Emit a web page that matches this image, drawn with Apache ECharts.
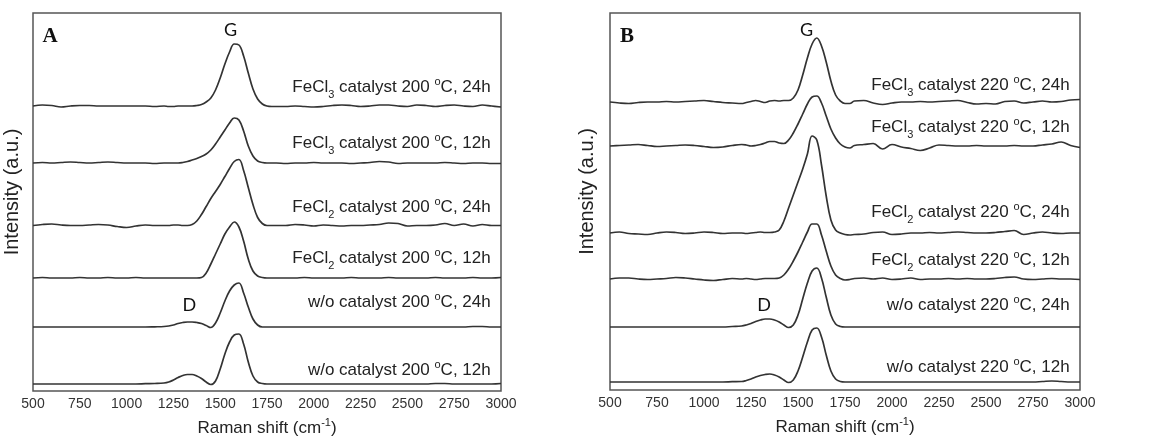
<!DOCTYPE html>
<html>
<head>
<meta charset="utf-8">
<script src="https://cdn.jsdelivr.net/npm/echarts@6/dist/echarts.min.js"></script>
<style>
html,body{margin:0;padding:0;background:#fff;}
#main{width:1153px;height:436px;}
</style>
</head>
<body>
<div id="main"></div>
<script>
// Raman shift grid (cm-1), finer around the D/G bands
var shift = [500,550,600,650,700,750,800,850,900,950,1000,1050,1100,1150,
	1200,1225,1250,1275,1300,1325,1350,1375,1400,1425,1450,1475,1500,1525,1550,1575,1600,1625,1650,1675,1700,1725,1750,1775,1800,
	1850,1900,1950,2000,2050,2100,2150,2200,2250,2300,2350,2400,2450,2500,2550,2600,2650,2700,2750,2800,2850,2900,2950,3000];

// panel A : 200 °C (intensity above each trace's own baseline)
var fecl3_200_24h = [0,1,0.5,-1,0,0.5,0.5,0,0,0,0,0,0,-0.5,
	0,-0.5,-0.5,0,0,0,0,0.5,1.5,4,8,16,28,42,54,62,61,50,33,17,7,2,0,-0.5,-0.5,
	-0.5,0,-0.5,-1,-0.5,0.5,1,0.5,-0.5,0,1,1,0,-0.5,1,0.5,-0.5,0.5,1,0,-0.5,1,0,-1];
var fecl3_200_12h = [0,0.5,0,0.5,1,0.5,0,0.5,1,0.5,0,0,0,-0.5,
	0,0,0,0,0.5,1.5,3,4.5,6.5,9,13,19,26,33,40,45,43,32,17,7,2,0.5,0,0,0,
	-0.5,0,0,0.5,0,0,0,-0.5,0,0.5,1.5,1,-0.5,0,0,0,0,0.5,0,-0.5,0,0,-0.5,-0.5];
var fecl2_200_24h = [0,1,1.5,0.5,0,0,0.5,1,0.5,-1,-2,-0.5,0.5,0,
	0,0,0.5,0.5,0,0,1,4.5,11,19,27,34,41,49,57,64,66,55,38,21,8,2,0,0,0,
	0,1,0.5,-0.5,0.5,0,-0.5,0,0,0.5,1,2.5,2,-0.5,0,0,0.5,2,0,1.5,-0.5,1,0,0];
var fecl2_200_12h = [0,0.5,0,0,0,0.5,0,0,0.5,0,0,0.5,0,0,
	0,0,0,0,0,0,0,0,0.5,5,14,24,34,44,51,56,51,37,19,7,2,0.5,0,0,0,
	0,0,0.5,0,0,0,0,0.5,0,0,0,0.5,0,0,0,0,0.5,0,0,0,0.5,0,0,0.5];
var none_200_24h = [0,0,0,0,0,0,0,0,0,0,0,0,0,0.2,
	0.5,1,2,3.5,4.5,5,5,4.5,3.5,1.5,-0.5,4,14,26,36,42,44,34,20,8,2,0,0,0,0,
	0,0,0,0,0,0,0,0,0,0,0,0,0,0,0,0,0,0,0,0,0.5,0.5,0,0];
var none_200_12h = [0,0,0,0,0,0,0,0,0,0,0,0,0.3,0.5,
	1,2,4,6.5,8.5,9.5,9.5,8,5.5,2,-0.5,3,15,30,42,49,50,40,22,8,2,0.5,0,0,0,
	0,0,0,0,0,0,0,0,0,0,0,0,0,0,0,0,0.5,0.5,0,0,0,0,0,0.5];

// panel B : 220 °C
var fecl3_220_24h = [0,-1,-1.5,-0.5,0,0,0.5,0,0.5,1,1.5,0.5,-0.5,-1,
	-1.5,-0.5,0.5,1.5,0.5,-0.5,1,1.5,1,1.5,1.5,4,12,27,44,58,64,56,40,21,7,1,-1.5,-1.5,1,
	1.5,-1,-2.5,-1,0,0,0.5,0,0.5,1,1.5,-0.5,-2,-1.5,-2,0.5,1,-1,0,1,0,0.5,2,2.5];
var fecl3_220_12h = [0,0.5,1,1.5,0.5,-0.5,0,0.5,1,0.5,-0.5,-1.5,-1,0.5,
	1.5,1,0,0.5,1.5,3,4.5,4.5,3,2.5,6,13,22,32,42,49,50,43,30,17,8,2,-1,-2,0.5,
	1.5,2.5,-3,1.5,-1,-2.5,-4.5,-2,1,0.5,0,0,0.5,0,0,0,0.5,0,0,1,2,4,0.5,-1.5];
var fecl2_220_24h = [0,1,-0.5,-1,-1.5,0,1,0.5,-0.5,0,1,0.5,-0.5,0,
	0,-0.5,0,0.5,1,0.5,0.5,1,3,12,25,38,51,64,79,97,93,68,37,13,3,0,-1.5,-2,-1.5,
	-1,0.5,1,-1.5,-1,0,0,0.5,0,0.5,1,0.5,0,0,0.5,1.5,2.5,-1.5,0,1,0,-0.5,0,0];
var fecl2_220_12h = [0,1,1,0,-0.5,0,0.5,1.5,1,0,-1,-1.5,-0.5,0.5,
	0,0.5,0,-0.5,0,0.5,0.5,0.5,1,4,10,18,27,37,47,55,55,44,28,13,4,0.5,-1,-0.5,0.5,
	1,0,1,-0.5,0,1,-0.5,0,0,0.5,0,0.5,0,0,0.5,1.5,2,0,-0.5,0,0.5,0,0,-0.5];
var none_220_24h = [0,0,0,0,0,0,0,0,0,0,0,0,0,0.5,
	1,2,3.5,5.5,7,8,8,7,5,2,-0.5,2,12,28,44,56,59,49,30,12,3,0.5,0,0,0,
	0,0,0,0,0,0,0,0,0,0,0,0,0,0,0,0,0,0,0,0,0,0,0,0];
var none_220_12h = [0,0,0,0,0,0,0,0,0,0,0,0,0,0.3,
	0.5,1.5,3,5,6.5,7.5,8,7,5,2,-0.5,2,11,25,40,52,54,45,27,11,3,0.5,0,0,0,
	0,0,0,0,0,0,0,0,0,0,0,0,0,0,0,0,0,0,0,0.5,1,0.5,0,0];

// stacking offsets of the traces (a.u.)
var offsetsA = [285, 228, 165.5, 113, 64, 7];
var offsetsB = [288, 244, 157, 111, 63, 8];

var labelsA = [
	'{t|FeCl}{sub|3}{t| catalyst 200 }{sup|o}{t|C, 24h}',
	'{t|FeCl}{sub|3}{t| catalyst 200 }{sup|o}{t|C, 12h}',
	'{t|FeCl}{sub|2}{t| catalyst 200 }{sup|o}{t|C, 24h}',
	'{t|FeCl}{sub|2}{t| catalyst 200 }{sup|o}{t|C, 12h}',
	'{t|w/o catalyst 200 }{sup|o}{t|C, 24h}',
	'{t|w/o catalyst 200 }{sup|o}{t|C, 12h}'
];
var labelsB = [
	'{t|FeCl}{sub|3}{t| catalyst 220 }{sup|o}{t|C, 24h}',
	'{t|FeCl}{sub|3}{t| catalyst 220 }{sup|o}{t|C, 12h}',
	'{t|FeCl}{sub|2}{t| catalyst 220 }{sup|o}{t|C, 24h}',
	'{t|FeCl}{sub|2}{t| catalyst 220 }{sup|o}{t|C, 12h}',
	'{t|w/o catalyst 220 }{sup|o}{t|C, 24h}',
	'{t|w/o catalyst 220 }{sup|o}{t|C, 12h}'
];

var tracesA = [fecl3_200_24h, fecl3_200_12h, fecl2_200_24h, fecl2_200_12h, none_200_24h, none_200_12h];
var tracesB = [fecl3_220_24h, fecl3_220_12h, fecl2_220_24h, fecl2_220_12h, none_220_24h, none_220_12h];

var myChart = echarts.init(document.getElementById('main'));

var FONT = '"Liberation Sans", Arial, sans-serif';
var TXT = '#222';
var LINE = '#333';

var RICH = {
	t: {fontSize: 17, fontFamily: FONT, color: TXT, lineHeight: 26},
	sub: {fontSize: 11, fontFamily: FONT, color: TXT, verticalAlign: 'bottom'},
	sup: {fontSize: 11, fontFamily: FONT, color: TXT, verticalAlign: 'top', height: 16}
};

// where the trace names / band letters sit, in data units
var layoutA = {labelY: [304, 248, 184, 133, 89, 21], panel: [591, 354], G: [1555, 361], D: [1335, 86]};
var layoutB = {labelY: [305, 263, 178, 130, 85, 23], panel: [590, 353], G: [1545, 360], D: [1320, 85]};

function textPoint(coord, formatter, style){
	return {
		coord: coord,
		label: echarts.util.extend({show: true, position: 'inside', formatter: formatter}, style)
	};
}

function buildSeries(gridIdx, traces, offsets, labels, layout, letter){
	var out = [];
	for (var i = 0; i < traces.length; i++) {
		var pts = [];
		for (var j = 0; j < shift.length; j++) {
			pts.push([shift[j], traces[i][j] + offsets[i]]);
		}
		var marks = [{
			coord: [2945, layout.labelY[i]],
			label: {show: true, position: 'left', distance: 0, formatter: labels[i], rich: RICH}
		}];
		if (i == 0) {
			marks.push(textPoint(layout.panel, letter,
				{fontFamily: '"Liberation Serif", "Times New Roman", serif', fontWeight: 'bold', fontSize: 21, color: '#111'}));
			marks.push(textPoint(layout.G, 'G', {fontFamily: 'Lato, "Open Sans", sans-serif', fontSize: 18, color: '#111'}));
		}
		if (i == 4) {
			marks.push(textPoint(layout.D, 'D', {fontFamily: 'Lato, "Open Sans", sans-serif', fontSize: 18, color: '#111'}));
		}
		out.push({
			type: 'line',
			xAxisIndex: gridIdx,
			yAxisIndex: gridIdx,
			data: pts,
			smooth: 0.4,
			showSymbol: false,
			silent: true,
			lineStyle: {color: LINE, width: 1.7},
			markPoint: {
				symbol: 'circle',
				symbolSize: 0,
				silent: true,
				itemStyle: {color: 'rgba(0,0,0,0)'},
				data: marks
			}
		});
	}
	return out;
}

function xAxisOf(idx){
	return {
		gridIndex: idx,
		type: 'value',
		min: 500,
		max: 3000,
		interval: 250,
		axisLine: {show: false},
		axisTick: {show: false},
		splitLine: {show: false},
		axisLabel: {
			fontSize: 14, color: '#333', fontFamily: FONT, margin: 6, showMinLabel: true, showMaxLabel: true,
			formatter: function (v) { return String(v); }
		},
		name: '{t|Raman shift (cm}{sup|-1}{t|)}',
		nameLocation: 'middle',
		nameGap: 26,
		nameTextStyle: {
			rich: {
				t: {fontSize: 17, fontFamily: FONT, color: TXT, lineHeight: 22},
				sup: {fontSize: 11, fontFamily: FONT, color: TXT, verticalAlign: 'top'}
			}
		}
	};
}

function yAxisOf(idx, max, gap){
	return {
		gridIndex: idx,
		type: 'value',
		min: 0,
		max: max,
		axisLine: {show: false},
		axisTick: {show: false},
		axisLabel: {show: false},
		splitLine: {show: false},
		name: 'Intensity (a.u.)',
		nameLocation: 'middle',
		nameRotate: 90,
		nameGap: gap,
		nameTextStyle: {fontSize: 20, fontFamily: FONT, color: TXT, padding: [0, 0, 0, 20]}
	};
}

var option = {
	backgroundColor: '#fff',
	animation: false,
	grid: [
		{left: 33, top: 13, width: 468, height: 378, show: true, borderColor: '#555', borderWidth: 1.5, outerBoundsMode: 'none'},
		{left: 610, top: 13, width: 470, height: 377, show: true, borderColor: '#555', borderWidth: 1.5, outerBoundsMode: 'none'}
	],
	xAxis: [xAxisOf(0), xAxisOf(1)],
	yAxis: [yAxisOf(0, 378, 11), yAxisOf(1, 377, 13)],
	series: buildSeries(0, tracesA, offsetsA, labelsA, layoutA, 'A')
		.concat(buildSeries(1, tracesB, offsetsB, labelsB, layoutB, 'B'))
};

myChart.setOption(option);
</script>
</body>
</html>
